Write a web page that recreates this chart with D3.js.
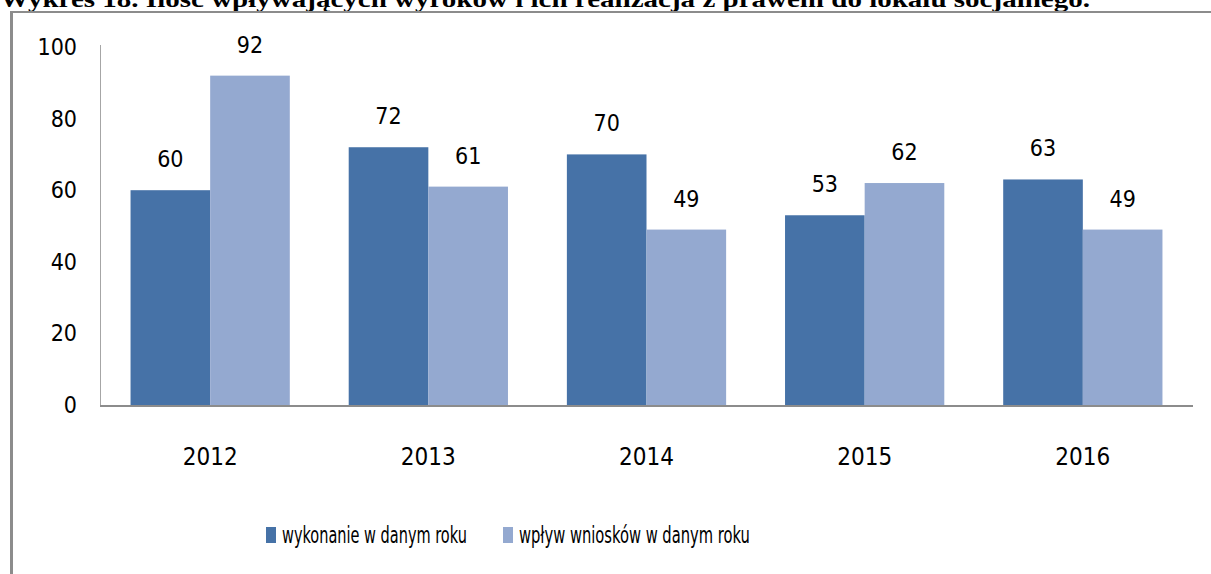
<!DOCTYPE html>
<html>
<head>
  <meta charset="UTF-8"/>
  <title>Wykres 18</title>
  <style>
    body { margin: 0; background: #fff; }
    text { font-family: 'DejaVu Sans Condensed', 'Liberation Sans', sans-serif; fill: #000; }
    .title { font-family: 'Liberation Serif', serif; font-weight: bold; font-size: 24px; }
    .ticks { font-size: 23px; }
    .xlab { font-size: 24px; }
    .vals { font-size: 23px; }
    .legend { font-size: 23px; }
  </style>
  <script src="https://d3js.org/d3.v7.min.js"></script>
</head>
<body>
<svg width="1211" height="574"></svg>
<script>
var years = ["2012", "2013", "2014", "2015", "2016"];
var wykonanie = [60, 72, 70, 53, 63];
var wplyw = [92, 61, 49, 62, 49];
var seriesNames = ["wykonanie w danym roku", "wpływ wniosków w danym roku"];
var colors = ["#4672A7", "#94A9D0"];
var yTicks = [0, 20, 40, 60, 80, 100];

var svg = d3.select("svg");

// title cut off at the top of the picture, as in the source
svg.append("text")
  .attr("class", "title")
  .attr("x", 0)
  .attr("y", 7)
  .attr("textLength", 1090)
  .attr("lengthAdjust", "spacingAndGlyphs")
  .text("Wykres 18. Ilość wpływających wyroków i ich realizacja z prawem do lokalu socjalnego.");

// frame
svg.append("line").attr("x1", 10).attr("x2", 1211).attr("y1", 12).attr("y2", 12)
  .attr("stroke", "#8c8c8c").attr("stroke-width", 2);
svg.append("line").attr("x1", 11.5).attr("x2", 11.5).attr("y1", 11).attr("y2", 574)
  .attr("stroke", "#8c8c8c").attr("stroke-width", 3);

var x = d3.scaleBand().domain(years).range([100, 1193]).paddingInner(0.27).paddingOuter(0.14);
var x1 = d3.scaleBand().domain([0, 1]).range([0, x.bandwidth()]);
var y = d3.scaleLinear().domain([0, 100]).range([405, 47]);

// y axis
svg.append("line").attr("x1", 100.5).attr("x2", 100.5).attr("y1", 45).attr("y2", 405)
  .attr("stroke", "#a6a6a6").attr("stroke-width", 1);
svg.selectAll(".ytick").data(yTicks).enter().append("text")
  .attr("class", "ticks")
  .attr("x", 77)
  .attr("y", function(d) { return y(d); })
  .attr("dy", "0.35em")
  .attr("text-anchor", "end")
  .text(function(d) { return d; });

var data = years.map(function(yr, i) { return { year: yr, vals: [wykonanie[i], wplyw[i]] }; });

var g = svg.selectAll(".grp").data(data).enter().append("g")
  .attr("transform", function(d) { return "translate(" + x(d.year) + ",0)"; });

g.selectAll("rect").data(function(d) { return d.vals; }).enter().append("rect")
  .attr("x", function(d, i) { return x1(i); })
  .attr("y", function(d) { return y(d); })
  .attr("width", x1.bandwidth())
  .attr("height", function(d) { return y(0) - y(d); })
  .attr("fill", function(d, i) { return colors[i]; });

g.selectAll(".val").data(function(d) { return d.vals; }).enter().append("text")
  .attr("class", "vals")
  .attr("x", function(d, i) { return x1(i) + x1.bandwidth() / 2; })
  .attr("y", function(d) { return y(d) - 23; })
  .attr("text-anchor", "middle")
  .text(function(d) { return d; });

// x axis
svg.append("line").attr("x1", 100).attr("x2", 1193).attr("y1", 406).attr("y2", 406)
  .attr("stroke", "#8c8c8c").attr("stroke-width", 2);
svg.selectAll(".xtick").data(years).enter().append("text")
  .attr("class", "xlab")
  .attr("x", function(d) { return x(d) + x.bandwidth() / 2; })
  .attr("y", 465)
  .attr("text-anchor", "middle")
  .text(function(d) { return d; });

// legend - text squeezed horizontally like the original
var legX = [266, 503];
var legW = [185, 231];
var leg = svg.selectAll(".leg").data(seriesNames).enter().append("g")
  .attr("transform", function(d, i) { return "translate(" + legX[i] + ",527)"; });
leg.append("rect").attr("width", 10).attr("height", 16)
  .attr("fill", function(d, i) { return colors[i]; });
leg.append("text").attr("class", "legend")
  .attr("y", 8).attr("dy", "0.35em")
  .text(function(d) { return d; })
  .attr("transform", function(d, i) {
    var k = legW[i] / this.getComputedTextLength();
    return "translate(16,0) scale(" + k + ",1)";
  });
</script>
</body>
</html>
